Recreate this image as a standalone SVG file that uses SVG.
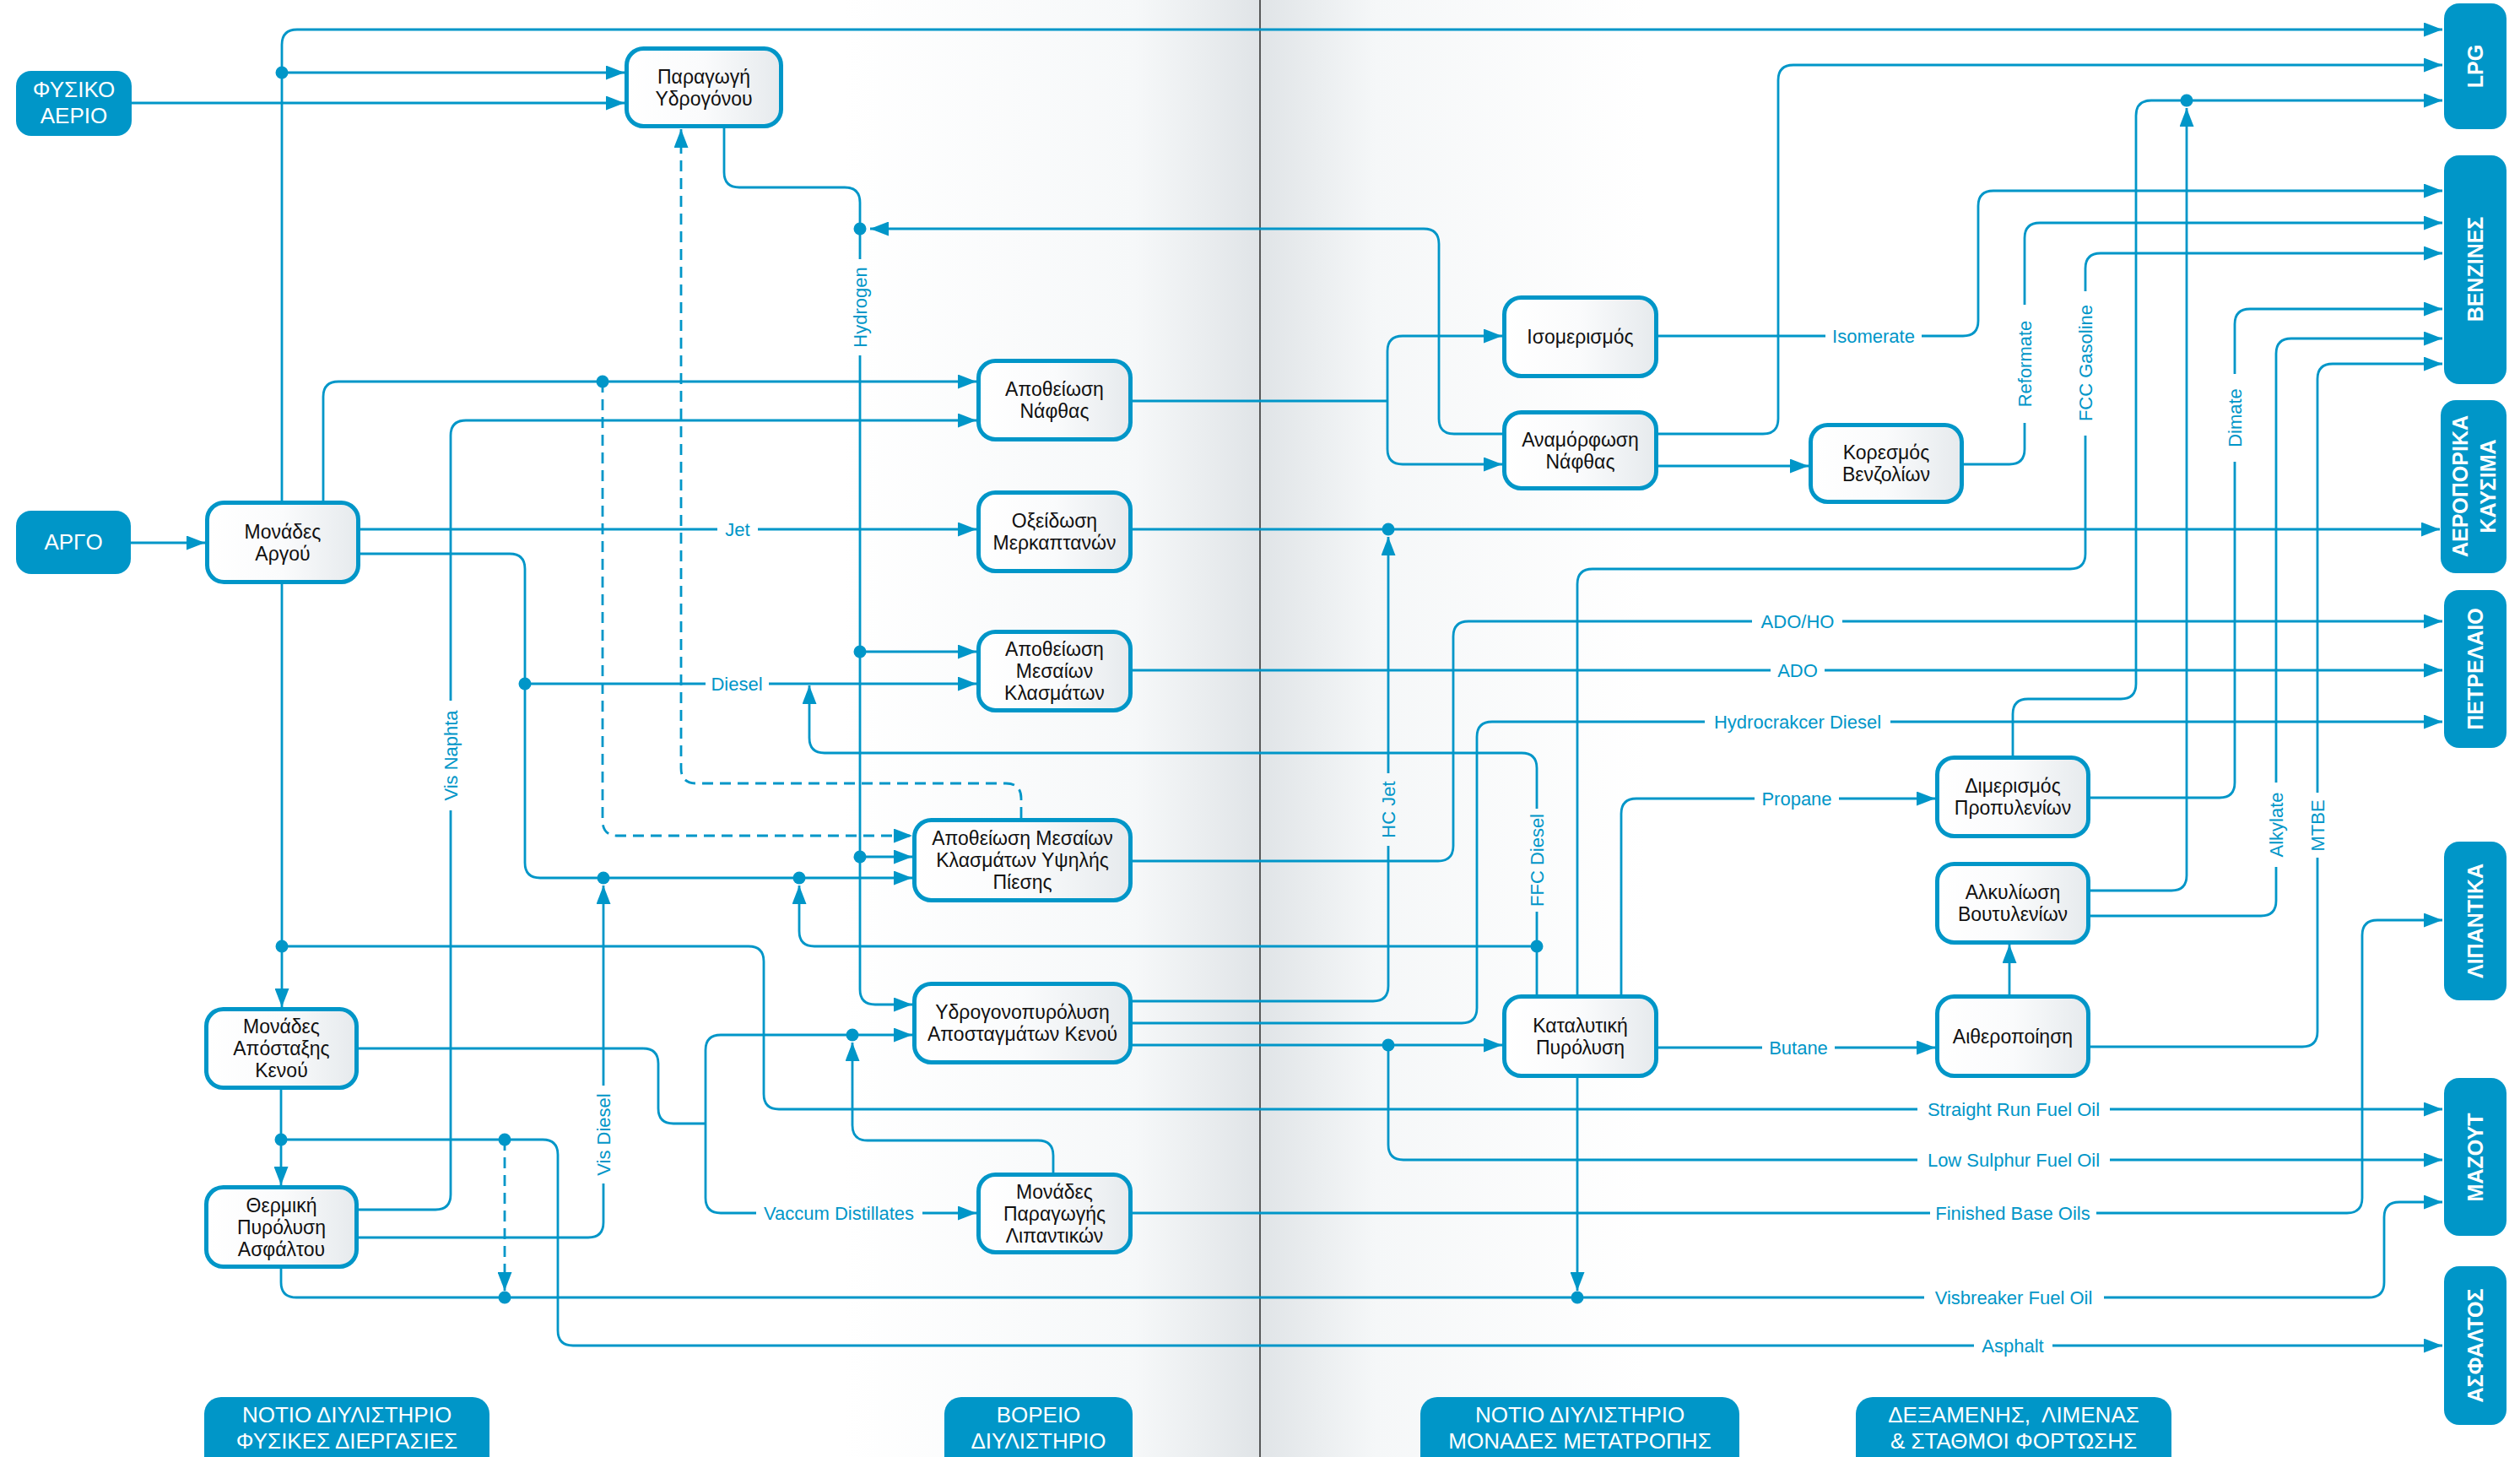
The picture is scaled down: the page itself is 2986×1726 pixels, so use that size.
<svg xmlns="http://www.w3.org/2000/svg" width="2986" height="1726" viewBox="0 0 2986 1726">
<defs>
<style>
.c{fill:none;stroke:#0096c8;stroke-width:2.8}
.a{marker-end:url(#ah)}
.d{stroke-dasharray:13 8}
.dot{fill:#0096c8}
.nb{fill:url(#ng);stroke:#0096c8;stroke-width:5}
.nt{font-family:"Liberation Sans",Arial,sans-serif;font-size:23px;fill:#111;text-anchor:middle}
.hb{fill:#0096c8}
.ht{font-family:"Liberation Sans",Arial,sans-serif;font-size:26px;fill:#fff;text-anchor:middle}
.vt{font-family:"Liberation Sans",Arial,sans-serif;font-size:25px;font-weight:bold;fill:#fff;text-anchor:middle}
.lb{font-family:"Liberation Sans",Arial,sans-serif;font-size:22px;fill:#0096c8;text-anchor:middle}
</style>
<linearGradient id="ng" x1="0" y1="0" x2="1" y2="0">
<stop offset="0" stop-color="#ffffff"/><stop offset="0.5" stop-color="#fafbfc"/><stop offset="1" stop-color="#e6eaed"/>
</linearGradient>
<linearGradient id="bgl" x1="0" y1="0" x2="1" y2="0">
<stop offset="0" stop-color="#ffffff"/><stop offset="0.7" stop-color="#f6f8f9"/><stop offset="1" stop-color="#e0e4e7"/>
</linearGradient>
<linearGradient id="bgr" x1="0" y1="0" x2="1" y2="0">
<stop offset="0" stop-color="#e0e4e7"/><stop offset="0.3" stop-color="#f5f7f8"/><stop offset="1" stop-color="#ffffff"/>
</linearGradient>
<marker id="ah" viewBox="0 0 22 17" refX="22" refY="8.5" markerWidth="22" markerHeight="17" markerUnits="userSpaceOnUse" orient="auto">
<path d="M0,0 L22,8.5 L0,17 z" fill="#0096c8"/>
</marker>
<mask id="gm" maskUnits="userSpaceOnUse" x="0" y="0" width="2986" height="1726">
<rect width="2986" height="1726" fill="#fff"/>
<g fill="#000">
<rect x="850" y="619" width="48" height="16"/>
<rect x="836" y="802" width="75" height="16"/>
<rect x="1011" y="307" width="16" height="114"/>
<rect x="526" y="830" width="16" height="130"/>
<rect x="707" y="1286" width="16" height="116"/>
<rect x="896" y="1429" width="197" height="16"/>
<rect x="1637" y="916" width="16" height="86"/>
<rect x="1813" y="958" width="16" height="122"/>
<rect x="2163" y="390" width="114" height="16"/>
<rect x="2391" y="361" width="16" height="140"/>
<rect x="2463" y="345" width="16" height="171"/>
<rect x="2640" y="443" width="16" height="104"/>
<rect x="2689" y="927" width="16" height="100"/>
<rect x="2738" y="939" width="16" height="77"/>
<rect x="2076" y="728" width="107" height="16"/>
<rect x="2098" y="786" width="64" height="16"/>
<rect x="2020" y="847" width="220" height="16"/>
<rect x="2079" y="938" width="100" height="16"/>
<rect x="2088" y="1233" width="86" height="16"/>
<rect x="2272" y="1306" width="228" height="16"/>
<rect x="2272" y="1366" width="228" height="16"/>
<rect x="2287" y="1429" width="197" height="16"/>
<rect x="2280" y="1529" width="213" height="16"/>
<rect x="2339" y="1586" width="93" height="16"/>
</g>
</mask>
</defs>

<g id="background">
<rect width="2986" height="1726" fill="#ffffff"/>
<rect x="1000" y="0" width="493" height="1726" fill="url(#bgl)"/>
<rect x="1493" y="0" width="457" height="1726" fill="url(#bgr)"/>
<line x1="1493" y1="0" x2="1493" y2="1726" stroke="#2a2a2a" stroke-width="1.5"/>
</g>

<g id="connectors" mask="url(#gm)">
<path class="c a" d="M334,593 V53 Q334,35 352,35 H2894"/>
<path class="c a" d="M334,86 H740"/>
<path class="c a" d="M156,122 H740"/>
<path class="c a" d="M383,593 V470 Q383,452 401,452 H1157"/>
<path class="c a d" d="M714,452 V972 Q714,990 732,990 H1081"/>
<path class="c a" d="M425,1433 H516 Q534,1433 534,1415 V516 Q534,498 552,498 H1157"/>
<path class="c a" d="M155,643 H243"/>
<path class="c a" d="M427,627 H1157"/>
<path class="c a" d="M427,656 H604 Q622,656 622,674 V1022 Q622,1040 640,1040 H1081"/>
<path class="c a" d="M622,810 H1157"/>
<path class="c a" d="M334,692 V1193"/>
<path class="c a" d="M334,1121 H887 Q905,1121 905,1139 V1296 Q905,1314 923,1314 H2894"/>
<path class="c a" d="M858,152 V204 Q858,222 876,222 H1001 Q1019,222 1019,240 V1172 Q1019,1190 1037,1190 H1081"/>
<path class="c a" d="M1019,772 H1157"/>
<path class="c a" d="M1019,1015 H1081"/>
<path class="c a" d="M1780,514 H1723 Q1705,514 1705,496 V289 Q1705,271 1687,271 H1031"/>
<path class="c a d" d="M1210,969 V946 Q1210,928 1192,928 H825 Q807,928 807,910 V153"/>
<path class="c" d="M1342,475 H1644"/>
<path class="c a" d="M1644,475 V416 Q1644,398 1662,398 H1780"/>
<path class="c a" d="M1644,475 V532 Q1644,550 1662,550 H1780"/>
<path class="c a" d="M1965,398 H2326 Q2344,398 2344,380 V244 Q2344,226 2362,226 H2894"/>
<path class="c a" d="M1965,514 H2089 Q2107,514 2107,496 V95 Q2107,77 2125,77 H2894"/>
<path class="c a" d="M1965,552 H2143"/>
<path class="c a" d="M2327,550 H2381 Q2399,550 2399,532 V282 Q2399,264 2417,264 H2894"/>
<path class="c a" d="M1342,627 H2891"/>
<path class="c a" d="M1342,1186 H1627 Q1645,1186 1645,1168 V636"/>
<path class="c a" d="M1342,794 H2894"/>
<path class="c a" d="M1342,1020 H1704 Q1722,1020 1722,1002 V754 Q1722,736 1740,736 H2894"/>
<path class="c a" d="M1342,1212 H1732 Q1750,1212 1750,1194 V873 Q1750,855 1768,855 H2894"/>
<path class="c a" d="M1342,1238 H1780"/>
<path class="c a" d="M1645,1238 V1356 Q1645,1374 1663,1374 H2894"/>
<path class="c a" d="M1821,1178 V910 Q1821,892 1803,892 H977 Q959,892 959,874 V812"/>
<path class="c a" d="M1821,1121 H965 Q947,1121 947,1103 V1049"/>
<path class="c a" d="M1869,1178 V692 Q1869,674 1887,674 H2453 Q2471,674 2471,656 V318 Q2471,300 2489,300 H2894"/>
<path class="c a" d="M1921,1178 V964 Q1921,946 1939,946 H2293"/>
<path class="c a" d="M1869,1277 V1529"/>
<path class="c a" d="M1965,1241 H2293"/>
<path class="c a" d="M2385,895 V846 Q2385,828 2403,828 H2513 Q2531,828 2531,810 V137 Q2531,119 2549,119 H2894"/>
<path class="c a" d="M2477,945 H2630 Q2648,945 2648,927 V384 Q2648,366 2666,366 H2894"/>
<path class="c a" d="M2477,1055 H2573 Q2591,1055 2591,1037 V128"/>
<path class="c a" d="M2477,1085 H2679 Q2697,1085 2697,1067 V419 Q2697,401 2715,401 H2894"/>
<path class="c a" d="M2477,1240 H2728 Q2746,1240 2746,1222 V449 Q2746,431 2764,431 H2894"/>
<path class="c a" d="M2381,1178 V1119"/>
<path class="c a" d="M1342,1437 H2781 Q2799,1437 2799,1419 V1108 Q2799,1090 2817,1090 H2894"/>
<path class="c a" d="M333,1503 V1519 Q333,1537 351,1537 H2807 Q2825,1537 2825,1519 V1442 Q2825,1424 2843,1424 H2894"/>
<path class="c a" d="M333,1291 V1404"/>
<path class="c a" d="M333,1350 H643 Q661,1350 661,1368 V1576 Q661,1594 679,1594 H2894"/>
<path class="c a d" d="M598,1350 V1529"/>
<path class="c" d="M425,1242 H762 Q780,1242 780,1260 V1313 Q780,1331 798,1331 H836"/>
<path class="c a" d="M836,1331 V1244 Q836,1226 854,1226 H1081"/>
<path class="c a" d="M836,1331 V1419 Q836,1437 854,1437 H1157"/>
<path class="c a" d="M1248,1389 V1369 Q1248,1351 1230,1351 H1028 Q1010,1351 1010,1333 V1235"/>
<path class="c a" d="M425,1466 H697 Q715,1466 715,1448 V1049"/>
<circle class="dot" cx="334" cy="86" r="7.5"/>
<circle class="dot" cx="714" cy="452" r="7.5"/>
<circle class="dot" cx="622" cy="810" r="7.5"/>
<circle class="dot" cx="715" cy="1040" r="7.5"/>
<circle class="dot" cx="947" cy="1040" r="7.5"/>
<circle class="dot" cx="1019" cy="271" r="7.5"/>
<circle class="dot" cx="1019" cy="772" r="7.5"/>
<circle class="dot" cx="1019" cy="1015" r="7.5"/>
<circle class="dot" cx="334" cy="1121" r="7.5"/>
<circle class="dot" cx="333" cy="1350" r="7.5"/>
<circle class="dot" cx="598" cy="1350" r="7.5"/>
<circle class="dot" cx="598" cy="1537" r="7.5"/>
<circle class="dot" cx="1010" cy="1226" r="7.5"/>
<circle class="dot" cx="1645" cy="627" r="7.5"/>
<circle class="dot" cx="1645" cy="1238" r="7.5"/>
<circle class="dot" cx="1821" cy="1121" r="7.5"/>
<circle class="dot" cx="1869" cy="1537" r="7.5"/>
<circle class="dot" cx="2591" cy="119" r="7.5"/>
</g>

<g id="connector-labels">
<text class="lb" x="874" y="635">Jet</text>
<text class="lb" x="873" y="818">Diesel</text>
<text class="lb" transform="translate(1019,364) rotate(-90)" x="0" y="8">Hydrogen</text>
<text class="lb" transform="translate(534,895) rotate(-90)" x="0" y="8">Vis Naphta</text>
<text class="lb" transform="translate(715,1344) rotate(-90)" x="0" y="8">Vis Diesel</text>
<text class="lb" x="994" y="1445">Vaccum Distillates</text>
<text class="lb" transform="translate(1645,959) rotate(-90)" x="0" y="8">HC Jet</text>
<text class="lb" transform="translate(1821,1019) rotate(-90)" x="0" y="8">FFC Diesel</text>
<text class="lb" x="2220" y="406">Isomerate</text>
<text class="lb" transform="translate(2399,431) rotate(-90)" x="0" y="8">Reformate</text>
<text class="lb" transform="translate(2471,430) rotate(-90)" x="0" y="8">FCC Gasoline</text>
<text class="lb" transform="translate(2648,495) rotate(-90)" x="0" y="8">Dimate</text>
<text class="lb" transform="translate(2697,977) rotate(-90)" x="0" y="8">Alkylate</text>
<text class="lb" transform="translate(2746,978) rotate(-90)" x="0" y="8">MTBE</text>
<text class="lb" x="2130" y="744">ADO/HO</text>
<text class="lb" x="2130" y="802">ADO</text>
<text class="lb" x="2130" y="863">Hydrocrakcer Diesel</text>
<text class="lb" x="2129" y="954">Propane</text>
<text class="lb" x="2131" y="1249">Butane</text>
<text class="lb" x="2386" y="1322">Straight Run Fuel Oil</text>
<text class="lb" x="2386" y="1382">Low Sulphur Fuel Oil</text>
<text class="lb" x="2385" y="1445">Finished Base Oils</text>
<text class="lb" x="2386" y="1545">Visbreaker Fuel Oil</text>
<text class="lb" x="2385" y="1602">Asphalt</text>
</g>

<g id="n-hydrogen-prod"><rect class="nb" x="742.5" y="57.5" width="183" height="92" rx="20"/><text class="nt" x="834" y="98.5">Παραγωγή</text><text class="nt" x="834" y="124.5">Υδρογόνου</text></g>
<g id="n-crude-units"><rect class="nb" x="245.5" y="595.5" width="179" height="94" rx="20"/><text class="nt" x="335" y="637.5">Μονάδες</text><text class="nt" x="335" y="663.5">Αργού</text></g>
<g id="n-vacuum"><rect class="nb" x="244.5" y="1195.5" width="178" height="93" rx="20"/><text class="nt" x="333.5" y="1224">Μονάδες</text><text class="nt" x="333.5" y="1250">Απόσταξης</text><text class="nt" x="333.5" y="1276">Κενού</text></g>
<g id="n-thermal"><rect class="nb" x="244.5" y="1406.5" width="178" height="94" rx="20"/><text class="nt" x="333.5" y="1435.5">Θερμική</text><text class="nt" x="333.5" y="1461.5">Πυρόλυση</text><text class="nt" x="333.5" y="1487.5">Ασφάλτου</text></g>
<g id="n-naphtha-hds"><rect class="nb" x="1159.5" y="427.5" width="180" height="93" rx="20"/><text class="nt" x="1249.5" y="469">Αποθείωση</text><text class="nt" x="1249.5" y="495">Νάφθας</text></g>
<g id="n-merox"><rect class="nb" x="1159.5" y="583.5" width="180" height="93" rx="20"/><text class="nt" x="1249.5" y="625">Οξείδωση</text><text class="nt" x="1249.5" y="651">Μερκαπτανών</text></g>
<g id="n-middle-hds"><rect class="nb" x="1159.5" y="748.5" width="180" height="93" rx="20"/><text class="nt" x="1249.5" y="777">Αποθείωση</text><text class="nt" x="1249.5" y="803">Μεσαίων</text><text class="nt" x="1249.5" y="829">Κλασμάτων</text></g>
<g id="n-hp-hds"><rect class="nb" x="1083.5" y="971.5" width="256" height="95" rx="20"/><text class="nt" x="1211.5" y="1001">Αποθείωση Μεσαίων</text><text class="nt" x="1211.5" y="1027">Κλασμάτων Υψηλής</text><text class="nt" x="1211.5" y="1053">Πίεσης</text></g>
<g id="n-hydrocracker"><rect class="nb" x="1083.5" y="1165.5" width="256" height="93" rx="20"/><text class="nt" x="1211.5" y="1207">Υδρογονοπυρόλυση</text><text class="nt" x="1211.5" y="1233">Αποσταγμάτων Κενού</text></g>
<g id="n-lube"><rect class="nb" x="1159.5" y="1391.5" width="180" height="92" rx="20"/><text class="nt" x="1249.5" y="1419.5">Μονάδες</text><text class="nt" x="1249.5" y="1445.5">Παραγωγής</text><text class="nt" x="1249.5" y="1471.5">Λιπαντικών</text></g>
<g id="n-isomerization"><rect class="nb" x="1782.5" y="352.5" width="180" height="93" rx="20"/><text class="nt" x="1872.5" y="407">Ισομερισμός</text></g>
<g id="n-reformer"><rect class="nb" x="1782.5" y="488.5" width="180" height="90" rx="20"/><text class="nt" x="1872.5" y="528.5">Αναμόρφωση</text><text class="nt" x="1872.5" y="554.5">Νάφθας</text></g>
<g id="n-benzene-sat"><rect class="nb" x="2145.5" y="503.5" width="179" height="91" rx="20"/><text class="nt" x="2235" y="544">Κορεσμός</text><text class="nt" x="2235" y="570">Βενζολίων</text></g>
<g id="n-fcc"><rect class="nb" x="1782.5" y="1180.5" width="180" height="94" rx="20"/><text class="nt" x="1872.5" y="1222.5">Καταλυτική</text><text class="nt" x="1872.5" y="1248.5">Πυρόλυση</text></g>
<g id="n-dimerization"><rect class="nb" x="2295.5" y="897.5" width="179" height="93" rx="20"/><text class="nt" x="2385" y="939">Διμερισμός</text><text class="nt" x="2385" y="965">Προπυλενίων</text></g>
<g id="n-alkylation"><rect class="nb" x="2295.5" y="1023.5" width="179" height="93" rx="20"/><text class="nt" x="2385" y="1065">Αλκυλίωση</text><text class="nt" x="2385" y="1091">Βουτυλενίων</text></g>
<g id="n-etherification"><rect class="nb" x="2295.5" y="1180.5" width="179" height="94" rx="20"/><text class="nt" x="2385" y="1235.5">Αιθεροποίηση</text></g>

<g id="in-natural-gas"><rect class="hb" x="19" y="84" width="137" height="77" rx="18"/><text class="ht" x="87.5" y="115">ΦΥΣΙΚΟ</text><text class="ht" x="87.5" y="146">ΑΕΡΙΟ</text></g>
<g id="in-crude"><rect class="hb" x="19" y="605" width="136" height="75" rx="18"/><text class="ht" x="87" y="651">ΑΡΓΟ</text></g>

<g id="out-lpg"><rect class="hb" x="2896" y="4" width="74" height="149" rx="18"/><text class="vt" transform="translate(2933,78.5) rotate(-90)" x="0" y="9">LPG</text></g>
<g id="out-gasoline"><rect class="hb" x="2896" y="184" width="74" height="271" rx="18"/><text class="vt" transform="translate(2933,319) rotate(-90)" x="0" y="9">ΒΕΝΖΙΝΕΣ</text></g>
<g id="out-jet"><rect class="hb" x="2892" y="474" width="78" height="205" rx="18"/><text class="vt" transform="translate(2931,576) rotate(-90)" x="0" y="-7">ΑΕΡΟΠΟΡΙΚΑ</text><text class="vt" transform="translate(2931,576) rotate(-90)" x="0" y="26">ΚΑΥΣΙΜΑ</text></g>
<g id="out-diesel"><rect class="hb" x="2896" y="699" width="74" height="187" rx="18"/><text class="vt" transform="translate(2933,792.5) rotate(-90)" x="0" y="9">ΠΕΤΡΕΛΑΙΟ</text></g>
<g id="out-lubes"><rect class="hb" x="2896" y="997" width="74" height="188" rx="18"/><text class="vt" transform="translate(2933,1091) rotate(-90)" x="0" y="9">ΛΙΠΑΝΤΙΚΑ</text></g>
<g id="out-fueloil"><rect class="hb" x="2896" y="1277" width="74" height="187" rx="18"/><text class="vt" transform="translate(2933,1371) rotate(-90)" x="0" y="9">ΜΑΖΟΥΤ</text></g>
<g id="out-asphalt"><rect class="hb" x="2896" y="1500" width="74" height="188" rx="18"/><text class="vt" transform="translate(2933,1594) rotate(-90)" x="0" y="9">ΑΣΦΑΛΤΟΣ</text></g>

<g id="sec-south-physical"><rect class="hb" x="242" y="1655" width="338" height="100" rx="20"/><text class="ht" x="411" y="1685">ΝΟΤΙΟ ΔΙΥΛΙΣΤΗΡΙΟ</text><text class="ht" x="411" y="1716">ΦΥΣΙΚΕΣ ΔΙΕΡΓΑΣΙΕΣ</text></g>
<g id="sec-north"><rect class="hb" x="1119" y="1655" width="223" height="100" rx="20"/><text class="ht" x="1230.5" y="1685">ΒΟΡΕΙΟ</text><text class="ht" x="1230.5" y="1716">ΔΙΥΛΙΣΤΗΡΙΟ</text></g>
<g id="sec-south-conversion"><rect class="hb" x="1683" y="1655" width="378" height="100" rx="20"/><text class="ht" x="1872" y="1685">ΝΟΤΙΟ ΔΙΥΛΙΣΤΗΡΙΟ</text><text class="ht" x="1872" y="1716">ΜΟΝΑΔΕΣ ΜΕΤΑΤΡΟΠΗΣ</text></g>
<g id="sec-terminals"><rect class="hb" x="2199" y="1655" width="374" height="100" rx="20"/><text class="ht" x="2386" y="1685" xml:space="preserve">ΔΕΞΑΜΕΝΗΣ,  ΛΙΜΕΝΑΣ</text><text class="ht" x="2386" y="1716">&amp; ΣΤΑΘΜΟΙ ΦΟΡΤΩΣΗΣ</text></g>
</svg>
